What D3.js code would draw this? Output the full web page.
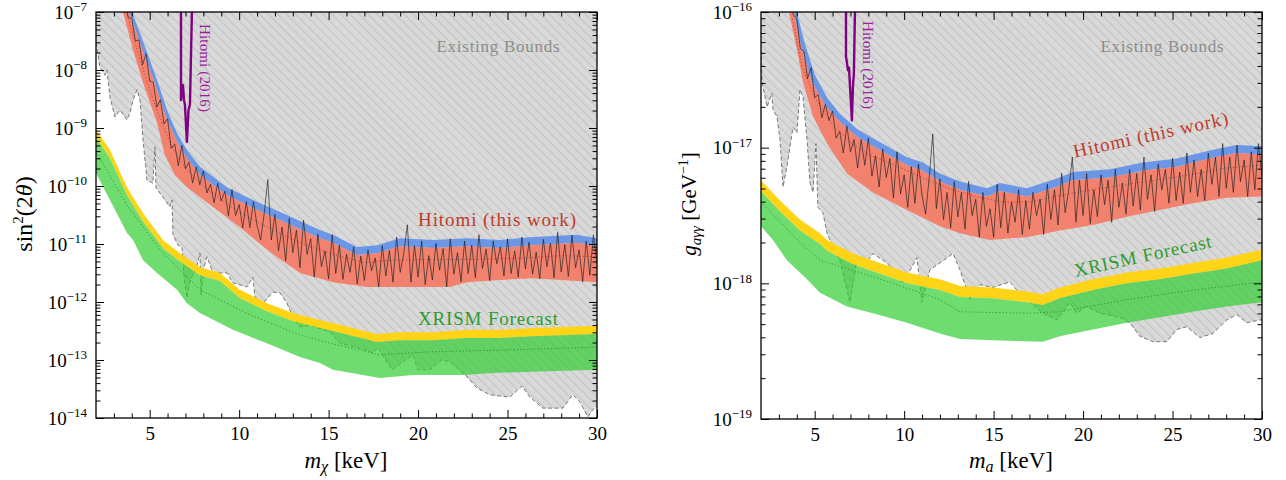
<!DOCTYPE html>
<html><head><meta charset="utf-8">
<script src="https://cdn.jsdelivr.net/npm/d3@7"></script>
<style>
body{margin:0;background:#fff;}
svg{display:block;}
svg text{font-family:"Liberation Serif","DejaVu Serif",serif;}
</style></head><body>
<svg id="chart" width="1286" height="480"></svg>
<script>
// ---------------- DATA (mass in keV, values given as log10) ----------------
const majorMassTicks = [5, 10, 15, 20, 25, 30];
const minorMassTicks = [3,4,6,7,8,9,11,12,13,14,16,17,18,19,21,22,23,24,26,27,28,29];
const leftDecades = [-14, -13, -12, -11, -10, -9, -8, -7];
const rightDecades = [-19, -18, -17, -16];

// Left panel: sin^2(2theta)
const existingL = [[2.00,-7.53],[2.22,-7.95],[2.50,-8.09],[2.61,-8.00],[2.78,-8.47],[3.06,-8.81],[3.34,-8.69],[3.73,-8.86],[3.90,-8.74],[4.07,-8.52],[4.29,-8.34],[4.46,-8.52],[4.63,-9.21],[4.85,-9.90],[5.18,-9.95],[5.30,-9.33],[5.35,-10.03],[5.74,-10.19],[6.13,-10.36],[6.25,-10.24],[6.30,-10.84],[6.58,-11.02],[6.80,-11.05],[6.92,-11.57],[7.08,-11.93],[7.25,-11.62],[7.59,-11.45],[7.81,-11.16],[7.87,-11.88],[8.03,-11.41],[8.20,-11.22],[8.54,-11.50],[9.32,-11.50],[9.65,-11.67],[10.44,-11.74],[10.77,-11.57],[10.88,-11.91],[11.33,-12.02],[11.89,-11.83],[12.28,-11.84],[12.67,-12.02],[13.01,-12.26],[13.40,-12.43],[13.96,-12.40],[15.07,-12.52],[15.63,-12.71],[17.14,-12.83],[17.47,-12.88],[17.75,-12.78],[18.54,-13.17],[19.71,-12.91],[19.99,-13.17],[20.66,-13.17],[21.33,-13.00],[21.78,-13.03],[22.73,-13.29],[23.28,-13.48],[24.01,-13.60],[25.13,-13.64],[25.80,-13.45],[26.25,-13.64],[26.97,-13.83],[28.09,-13.83],[28.65,-13.60],[29.04,-13.72],[29.49,-13.98],[29.88,-13.81],[30.00,-13.81]];
const blueTopL = [[3.80,-6.83],[4.01,-7.00],[4.46,-7.36],[5.41,-8.17],[5.97,-8.69],[6.53,-9.09],[7.08,-9.38],[7.81,-9.67],[9.32,-10.02],[10.77,-10.24],[12.45,-10.47],[14.51,-10.76],[15.24,-10.84],[16.58,-11.05],[17.70,-11.02],[18.98,-10.90],[20.83,-10.93],[22.73,-10.90],[24.57,-10.93],[26.41,-10.88],[28.87,-10.84],[30.00,-10.90]];
const redTopL = [[3.70,-6.85],[3.84,-7.00],[4.30,-7.40],[5.30,-8.25],[5.90,-8.80],[6.50,-9.22],[7.08,-9.52],[7.81,-9.81],[9.32,-10.16],[10.77,-10.38],[12.45,-10.61],[14.51,-10.90],[15.24,-10.98],[16.58,-11.19],[17.70,-11.16],[18.98,-11.04],[20.83,-11.07],[22.73,-11.04],[24.57,-11.07],[26.41,-11.02],[28.87,-10.98],[30.00,-11.04]];
const redBottomL = [[3.40,-6.85],[3.51,-7.00],[4.07,-7.66],[4.63,-8.22],[5.41,-8.91],[5.85,-9.47],[6.41,-9.81],[7.08,-10.02],[8.54,-10.36],[10.04,-10.71],[11.72,-11.14],[13.40,-11.50],[15.24,-11.66],[17.14,-11.74],[18.98,-11.74],[21.78,-11.74],[22.73,-11.66],[24.57,-11.62],[26.41,-11.59],[30.00,-11.66]];
const expectedL = [[3.70,-7.00],[4.20,-7.55],[5.00,-8.35],[5.60,-8.85],[6.20,-9.30],[7.00,-9.70],[8.00,-10.00],[9.50,-10.35],[11.00,-10.62],[12.50,-10.85],[14.00,-11.05],[15.50,-11.20],[17.00,-11.32],[18.50,-11.28],[20.00,-11.27],[22.00,-11.27],[24.00,-11.26],[26.00,-11.24],[28.00,-11.20],[30.00,-11.22]];
const yellowTopL = [[2.00,-9.03],[2.78,-9.38],[3.73,-10.02],[4.63,-10.47],[5.74,-10.93],[6.69,-11.16],[7.81,-11.40],[8.93,-11.50],[10.04,-11.79],[11.55,-12.02],[13.01,-12.19],[14.51,-12.31],[15.24,-12.36],[17.70,-12.55],[18.98,-12.52],[20.83,-12.52],[22.73,-12.48],[24.57,-12.48],[26.41,-12.45],[30.00,-12.41]];
const yellowBottomL = [[2.00,-9.17],[2.78,-9.52],[3.73,-10.16],[4.63,-10.61],[5.74,-11.07],[6.69,-11.30],[7.81,-11.54],[8.93,-11.64],[10.04,-11.93],[11.55,-12.16],[13.01,-12.33],[14.51,-12.45],[15.24,-12.50],[17.70,-12.69],[18.98,-12.66],[20.83,-12.66],[22.73,-12.62],[24.57,-12.62],[26.41,-12.59],[30.00,-12.55]];
const greenBottomL = [[2.00,-9.78],[2.78,-10.24],[3.73,-10.81],[4.07,-10.93],[4.63,-11.28],[5.41,-11.50],[6.53,-11.79],[7.08,-12.02],[7.81,-12.19],[9.65,-12.48],[11.55,-12.71],[13.40,-12.95],[14.51,-13.05],[15.24,-13.17],[17.87,-13.31],[19.71,-13.26],[22.50,-13.26],[24.40,-13.22],[30.00,-13.17]];
const xrismMedianL = [[2.00,-9.41],[3.73,-10.33],[5.58,-11.10],[7.81,-11.79],[10.60,-12.22],[13.40,-12.57],[15.07,-12.71],[17.87,-12.91],[20.66,-12.86],[24.40,-12.83],[30.00,-12.78]];
const hitomi2016L = [[6.75,-6.5],[6.75,-8.52],[6.86,-8.26],[6.92,-8.52],[6.97,-8.60],[7.08,-9.24],[7.17,-8.69],[7.25,-8.60],[7.36,-7.00],[7.38,-6.5]];

// Right panel: g_{a gamma gamma}
const existingR = [[2.00,-16.28],[2.06,-16.52],[2.34,-16.70],[2.61,-16.60],[2.67,-16.72],[2.89,-16.77],[3.06,-16.94],[3.23,-17.29],[3.45,-17.14],[3.62,-16.99],[3.79,-16.85],[4.01,-16.89],[4.18,-16.57],[4.35,-16.63],[4.57,-16.94],[4.74,-17.26],[4.91,-17.33],[5.07,-16.97],[5.18,-17.44],[5.46,-17.48],[5.69,-17.63],[5.85,-17.68],[6.41,-17.83],[6.97,-18.14],[7.36,-17.83],[7.70,-17.88],[8.26,-17.78],[9.04,-17.85],[9.93,-18.00],[10.72,-17.81],[10.99,-18.14],[11.44,-17.90],[12.00,-17.85],[12.73,-17.78],[13.12,-17.90],[13.68,-18.12],[14.23,-18.01],[14.96,-18.03],[15.91,-17.99],[16.30,-18.05],[16.86,-18.12],[17.75,-18.22],[18.54,-18.27],[19.26,-18.14],[19.65,-18.22],[20.21,-18.17],[20.94,-18.22],[22.06,-18.25],[22.61,-18.29],[23.17,-18.39],[23.90,-18.43],[24.68,-18.43],[25.24,-18.34],[25.80,-18.32],[26.53,-18.40],[27.25,-18.37],[28.03,-18.27],[28.59,-18.23],[29.15,-18.29],[29.88,-18.27],[30.00,-18.27]];
const blueTopR = [[3.70,-15.85],[4.00,-16.00],[4.40,-16.21],[5.00,-16.46],[5.69,-16.63],[6.41,-16.75],[7.36,-16.86],[8.26,-16.93],[9.21,-17.00],[10.16,-17.07],[11.05,-17.11],[12.00,-17.19],[13.12,-17.25],[14.63,-17.30],[15.35,-17.26],[16.86,-17.30],[18.70,-17.22],[19.43,-17.18],[21.50,-17.16],[23.34,-17.11],[25.24,-17.08],[27.08,-17.02],[28.59,-16.98],[30.00,-16.99]];
const redTopR = [[3.60,-15.85],[3.84,-16.00],[4.25,-16.26],[4.85,-16.52],[5.60,-16.69],[6.41,-16.81],[7.36,-16.92],[8.26,-16.99],[9.21,-17.06],[10.16,-17.13],[11.05,-17.17],[12.00,-17.25],[13.12,-17.31],[14.63,-17.36],[15.35,-17.32],[16.86,-17.36],[18.70,-17.28],[19.43,-17.24],[21.50,-17.22],[23.34,-17.17],[25.24,-17.14],[27.08,-17.08],[28.59,-17.04],[30.00,-17.05]];
const redBottomR = [[3.40,-15.91],[3.56,-16.00],[4.01,-16.28],[4.35,-16.52],[4.91,-16.77],[5.69,-16.97],[6.80,-17.19],[8.26,-17.33],[10.16,-17.46],[12.00,-17.58],[13.12,-17.63],[14.79,-17.68],[16.86,-17.66],[18.70,-17.61],[20.55,-17.57],[22.45,-17.51],[24.29,-17.46],[26.13,-17.41],[28.03,-17.37],[30.00,-17.36]];
const expectedR = [[3.75,-16.05],[4.30,-16.40],[5.00,-16.63],[6.00,-16.83],[7.00,-16.96],[8.00,-17.05],[9.50,-17.13],[11.00,-17.22],[12.50,-17.30],[14.00,-17.36],[15.50,-17.40],[17.00,-17.40],[18.50,-17.36],[20.00,-17.32],[22.00,-17.28],[24.00,-17.24],[26.00,-17.20],[28.00,-17.15],[30.00,-17.13]];
const yellowTopR = [[2.00,-17.24],[3.06,-17.39],[4.18,-17.53],[5.30,-17.63],[5.69,-17.68],[7.14,-17.78],[8.65,-17.85],[10.16,-17.92],[12.00,-17.97],[13.12,-18.02],[14.96,-18.03],[16.86,-18.06],[17.75,-18.08],[18.70,-18.03],[20.55,-17.97],[22.45,-17.92],[24.29,-17.89],[26.13,-17.85],[28.03,-17.81],[30.00,-17.75]];
const yellowBottomR = [[2.00,-17.32],[3.06,-17.47],[4.18,-17.61],[5.30,-17.71],[5.69,-17.76],[7.14,-17.86],[8.65,-17.93],[10.16,-18.00],[12.00,-18.05],[13.12,-18.10],[14.96,-18.11],[16.86,-18.14],[17.75,-18.16],[18.70,-18.11],[20.55,-18.05],[22.45,-18.00],[24.29,-17.97],[26.13,-17.93],[28.03,-17.89],[30.00,-17.83]];
const greenBottomR = [[2.00,-17.58],[2.67,-17.68],[3.45,-17.83],[4.57,-17.97],[5.30,-18.07],[6.80,-18.17],[8.26,-18.22],[10.16,-18.29],[12.00,-18.37],[13.12,-18.41],[14.96,-18.42],[17.75,-18.43],[18.70,-18.39],[20.55,-18.34],[22.45,-18.29],[24.29,-18.25],[26.13,-18.21],[28.03,-18.17],[30.00,-18.14]];
const xrismMedianR = [[2.00,-17.40],[4.18,-17.70],[5.30,-17.83],[8.26,-17.95],[12.00,-18.12],[13.12,-18.21],[16.86,-18.22],[18.70,-18.21],[22.45,-18.12],[26.13,-18.05],[30.00,-17.99]];
const hitomi2016R = [[6.75,-15.8],[6.75,-16.33],[6.80,-16.37],[6.86,-16.43],[6.92,-16.41],[6.97,-16.54],[7.08,-16.80],[7.14,-16.54],[7.19,-16.46],[7.25,-16.00],[7.26,-15.8]];

// Observed Hitomi limit (black line), same mass grid for both panels
const obsMass = [3.6,3.8,4.0,4.2,4.4,4.6,4.8,5.0,5.2,5.4,5.6,5.8,6.0,6.2,6.4,6.6,6.8,7.0,7.2,7.4,7.6,7.8,8.0,8.2,8.4,8.6,8.8,9.0,9.2,9.4,9.6,9.8,10.0,10.2,10.4,10.6,10.8,11.0,11.2,11.4,11.6,11.8,12.0,12.2,12.4,12.6,12.8,13.0,13.2,13.4,13.6,13.8,14.0,14.2,14.4,14.6,14.8,15.0,15.2,15.4,15.6,15.8,16.0,16.2,16.4,16.6,16.8,17.0,17.2,17.4,17.6,17.8,18.0,18.2,18.4,18.6,18.8,19.0,19.2,19.4,19.6,19.8,20.0,20.2,20.4,20.6,20.8,21.0,21.2,21.4,21.6,21.8,22.0,22.2,22.4,22.6,22.8,23.0,23.2,23.4,23.6,23.8,24.0,24.2,24.4,24.6,24.8,25.0,25.2,25.4,25.6,25.8,26.0,26.2,26.4,26.6,26.8,27.0,27.2,27.4,27.6,27.8,28.0,28.2,28.4,28.6,28.8,29.0,29.2,29.4,29.6,29.8,30.0];
const obsLeft = [-6.80,-7.09,-7.11,-7.50,-7.48,-7.91,-7.72,-8.19,-8.21,-8.64,-8.51,-8.93,-8.84,-9.35,-9.28,-9.65,-9.30,-9.70,-9.59,-9.95,-9.67,-9.98,-9.74,-10.12,-9.97,-10.29,-9.95,-10.26,-10.09,-10.51,-10.06,-10.51,-10.32,-10.72,-10.27,-10.72,-10.27,-10.68,-10.93,-10.48,-9.89,-10.93,-10.49,-11.12,-10.71,-11.29,-10.56,-11.15,-10.76,-11.41,-10.59,-11.18,-10.91,-11.57,-10.83,-11.39,-11.12,-11.60,-10.84,-11.51,-11.02,-11.61,-11.18,-11.49,-11.05,-11.69,-11.21,-11.63,-11.10,-11.46,-11.24,-11.74,-11.03,-11.55,-11.11,-11.66,-10.88,-11.49,-11.16,-10.67,-11.66,-11.03,-11.57,-10.95,-11.70,-11.20,-11.62,-10.99,-11.45,-11.08,-11.74,-10.91,-11.52,-11.15,-11.65,-10.95,-11.51,-11.02,-11.58,-10.84,-11.42,-11.09,-11.63,-10.95,-11.34,-11.05,-11.55,-10.91,-11.51,-11.12,-11.57,-10.88,-11.43,-10.97,-11.52,-11.14,-11.60,-10.92,-11.39,-10.99,-11.58,-10.80,-11.48,-11.01,-11.56,-10.85,-11.41,-11.10,-11.65,-10.95,-11.54,-10.84,-11.35];
const obsRight = [-15.86,-16.02,-16.05,-16.27,-16.29,-16.49,-16.41,-16.63,-16.61,-16.78,-16.68,-16.80,-16.73,-16.93,-16.88,-17.04,-16.84,-17.03,-16.94,-17.15,-16.94,-17.13,-16.93,-17.21,-17.06,-17.29,-17.01,-17.22,-17.08,-17.37,-17.03,-17.34,-17.20,-17.44,-17.14,-17.41,-17.12,-17.35,-17.49,-17.22,-16.90,-17.45,-17.23,-17.53,-17.33,-17.59,-17.25,-17.51,-17.33,-17.60,-17.25,-17.50,-17.38,-17.66,-17.33,-17.58,-17.45,-17.66,-17.27,-17.59,-17.33,-17.63,-17.40,-17.55,-17.31,-17.64,-17.39,-17.60,-17.33,-17.50,-17.38,-17.64,-17.27,-17.53,-17.31,-17.57,-17.19,-17.48,-17.31,-17.07,-17.55,-17.24,-17.50,-17.19,-17.56,-17.31,-17.51,-17.20,-17.42,-17.24,-17.55,-17.16,-17.44,-17.26,-17.49,-17.16,-17.43,-17.19,-17.46,-17.07,-17.38,-17.20,-17.47,-17.12,-17.31,-17.16,-17.41,-17.08,-17.39,-17.18,-17.41,-17.04,-17.33,-17.09,-17.36,-17.16,-17.39,-17.04,-17.27,-17.07,-17.36,-16.97,-17.30,-17.07,-17.33,-16.98,-17.25,-17.09,-17.36,-17.03,-17.31,-16.97,-17.21];

// ---------------- DRAWING ----------------
const svg = d3.select("#chart");
const defs = svg.append("defs");
const hatch = defs.append("pattern").attr("id","hatch").attr("patternUnits","userSpaceOnUse")
  .attr("width",6.4).attr("height",6.4).attr("patternTransform","rotate(-45)");
hatch.append("rect").attr("width",6.4).attr("height",6.4).attr("fill","#d9d9d9");
hatch.append("line").attr("x1",0.6).attr("y1",0).attr("x2",0.6).attr("y2",6.4)
  .attr("stroke","#c3c3c3").attr("stroke-width",1.1);

const COLORS = {
  red: "#f2826e", blue: "#6b97e6", yellow: "#ffd416", green: "rgba(50,205,50,0.70)",
  purple: "#800080", hitomiText: "#c0392b", xrismText: "#2e9b2e", boundsText: "#8c8c8c"
};

function drawPanel(cfg) {
  const g = svg.append("g");
  const x = d3.scaleLinear().domain([2, 30]).range([cfg.x0, cfg.x1]);
  const y = d3.scaleLog().domain([Math.pow(10, cfg.ymin), Math.pow(10, cfg.ymax)]).range([cfg.y1, cfg.y0]);
  const P = d => [x(d[0]), y(Math.pow(10, d[1]))];
  const line = d3.line();
  const poly = (a, b) => line(a.map(P).concat(b.slice().reverse().map(P))) + "Z";

  defs.append("clipPath").attr("id", cfg.id + "clip").append("rect")
    .attr("x", cfg.x0).attr("y", cfg.y0).attr("width", cfg.x1 - cfg.x0).attr("height", cfg.y1 - cfg.y0);
  const p = g.append("g").attr("clip-path", `url(#${cfg.id}clip)`);

  // Existing bounds (filled up to the top)
  const topLog = cfg.ymax + 1;
  const boundArea = [[2, topLog]].concat(cfg.existing).concat([[30, topLog]]);
  p.append("path").attr("d", line(boundArea.map(P)) + "Z").attr("fill", "url(#hatch)");
  p.append("path").attr("d", line(cfg.existing.map(P))).attr("fill", "none")
    .attr("stroke", "#5a5a5a").attr("stroke-width", 0.8).attr("stroke-dasharray", "4,2.5");

  // Hitomi (this work) bands
  p.append("path").attr("d", poly(cfg.blueTop, cfg.redTop)).attr("fill", COLORS.blue);
  p.append("path").attr("d", poly(cfg.redTop, cfg.redBottom)).attr("fill", COLORS.red);
  p.append("path").attr("d", line(cfg.expected.map(P))).attr("fill", "none")
    .attr("stroke", "#a8392c").attr("stroke-width", 0.8).attr("stroke-dasharray", "1.2,2.2");
  const obs = cfg.obsMass.map((m, i) => [m, cfg.obs[i]]);
  p.append("path").attr("d", line(obs.map(P))).attr("fill", "none")
    .attr("stroke", "#1a1a1a").attr("stroke-width", 0.75).attr("stroke-opacity", 0.85)
    .attr("stroke-linejoin", "round");

  // XRISM forecast
  p.append("path").attr("d", poly(cfg.yellowTop, cfg.yellowBottom)).attr("fill", COLORS.yellow);
  p.append("path").attr("d", poly(cfg.yellowBottom, cfg.greenBottom)).attr("fill", COLORS.green);
  p.append("path").attr("d", line(cfg.xrismMedian.map(P))).attr("fill", "none")
    .attr("stroke", "#2b7f2b").attr("stroke-width", 0.8).attr("stroke-dasharray", "1.2,2.2");

  // Hitomi 2016
  p.append("path").attr("d", line(cfg.hitomi2016.map(P))).attr("fill", "none")
    .attr("stroke", COLORS.purple).attr("stroke-width", 2.4).attr("stroke-linejoin", "round");

  // Labels inside plot
  const t = cfg.texts;
  g.append("text").attr("x", t.bounds[0]).attr("y", t.bounds[1]).attr("text-anchor", "middle")
    .attr("font-size", 17).attr("fill", COLORS.boundsText).attr("textLength", 123).text("Existing Bounds");
  g.append("text").attr("transform", `translate(${t.hitomi[0]},${t.hitomi[1]}) rotate(${t.hitomi[2]})`)
    .attr("text-anchor", "middle").attr("font-size", 19).attr("fill", COLORS.hitomiText)
    .attr("textLength", 158).text("Hitomi (this work)");
  g.append("text").attr("transform", `translate(${t.xrism[0]},${t.xrism[1]}) rotate(${t.xrism[2]})`)
    .attr("text-anchor", "middle").attr("font-size", 19).attr("fill", COLORS.xrismText)
    .attr("textLength", 140).text("XRISM Forecast");
  g.append("text").attr("transform", `translate(${t.h2016[0]},${t.h2016[1]}) rotate(90)`)
    .attr("text-anchor", "middle").attr("font-size", 15).attr("fill", "#9a1f9a")
    .attr("textLength", 88).text("Hitomi (2016)");

  // Axes
  const minorY = [];
  for (let d = cfg.ymin; d < cfg.ymax; d++) for (let j = 2; j <= 9; j++) minorY.push(j * Math.pow(10, d));
  const majorY = cfg.decades.map(d => Math.pow(10, d));
  const ax = g.append("g");
  const mk = (axis, tx, ty) => {
    const a = ax.append("g").attr("transform", `translate(${tx},${ty})`).call(axis);
    a.attr("font-family", null);
    a.select(".domain").remove();
    a.selectAll(".tick line").attr("stroke", "#000").attr("stroke-width", 1);
    return a;
  };
  const xb = mk(d3.axisBottom(x).tickValues(majorMassTicks).tickSizeInner(-8).tickSizeOuter(0).tickPadding(9), 0, cfg.y1);
  xb.selectAll("text").attr("font-size", 19).attr("fill", "#000");
  mk(d3.axisBottom(x).tickValues(minorMassTicks).tickSize(-4.5).tickFormat(""), 0, cfg.y1);
  mk(d3.axisTop(x).tickValues(majorMassTicks).tickSize(-8).tickFormat(""), 0, cfg.y0);
  mk(d3.axisTop(x).tickValues(minorMassTicks).tickSize(-4.5).tickFormat(""), 0, cfg.y0);
  const yl = mk(d3.axisLeft(y).tickValues(majorY).tickSizeInner(-8).tickSizeOuter(0).tickPadding(9), cfg.x0, 0);
  yl.selectAll(".tick text").each(function(d) {
    const s = d3.select(this);
    const e = Math.round(Math.log10(d));
    s.text(null).attr("font-size", 19).attr("fill", "#000");
    s.append("tspan").text("10");
    s.append("tspan").attr("font-size", 13).attr("dy", "-0.55em").text("\u2212" + Math.abs(e));
  });
  mk(d3.axisLeft(y).tickValues(minorY).tickSize(-4.5).tickFormat(""), cfg.x0, 0);
  mk(d3.axisRight(y).tickValues(majorY).tickSize(-8).tickFormat(""), cfg.x1, 0);
  mk(d3.axisRight(y).tickValues(minorY).tickSize(-4.5).tickFormat(""), cfg.x1, 0);

  g.append("rect").attr("x", cfg.x0).attr("y", cfg.y0).attr("width", cfg.x1 - cfg.x0)
    .attr("height", cfg.y1 - cfg.y0).attr("fill", "none").attr("stroke", "#000").attr("stroke-width", 1.3);

  return g;
}

const left = drawPanel({
  id: "L", x0: 96, x1: 597, y0: 12, y1: 418, ymin: -14, ymax: -7, decades: leftDecades,
  existing: existingL, blueTop: blueTopL, redTop: redTopL, redBottom: redBottomL, expected: expectedL,
  obsMass: obsMass, obs: obsLeft, yellowTop: yellowTopL, yellowBottom: yellowBottomL,
  greenBottom: greenBottomL, xrismMedian: xrismMedianL, hitomi2016: hitomi2016L,
  texts: { bounds: [498, 52], hitomi: [497, 226, 0], xrism: [488, 325, 0], h2016: [200, 68] }
});
const right = drawPanel({
  id: "R", x0: 761, x1: 1262, y0: 12, y1: 419, ymin: -19, ymax: -16, decades: rightDecades,
  existing: existingR, blueTop: blueTopR, redTop: redTopR, redBottom: redBottomR, expected: expectedR,
  obsMass: obsMass, obs: obsRight, yellowTop: yellowTopR, yellowBottom: yellowBottomR,
  greenBottom: greenBottomR, xrismMedian: xrismMedianR, hitomi2016: hitomi2016R,
  texts: { bounds: [1162, 52], hitomi: [1152, 141, -12.3], xrism: [1144, 262, -12.3], h2016: [863, 65] }
});

// Axis titles
const lx = svg.append("text").attr("x", 346).attr("y", 468).attr("text-anchor", "middle").attr("font-size", 23);
lx.append("tspan").attr("font-style", "italic").text("m");
lx.append("tspan").attr("font-style", "italic").attr("font-size", 16).attr("dy", 4).text("\u03c7");
lx.append("tspan").attr("dy", -4).text("\u00a0[keV]");

const rx = svg.append("text").attr("x", 1011).attr("y", 468).attr("text-anchor", "middle").attr("font-size", 23);
rx.append("tspan").attr("font-style", "italic").text("m");
rx.append("tspan").attr("font-style", "italic").attr("font-size", 16).attr("dy", 4).text("a");
rx.append("tspan").attr("dy", -4).text("\u00a0[keV]");

const ly = svg.append("text").attr("transform", "translate(32,214) rotate(-90)").attr("text-anchor", "middle").attr("font-size", 24);
ly.append("tspan").text("sin");
ly.append("tspan").attr("font-size", 15).attr("dy", -9).text("2");
ly.append("tspan").attr("dy", 9).text("(2");
ly.append("tspan").attr("font-style", "italic").text("\u03b8");
ly.append("tspan").text(")");

const ry = svg.append("text").attr("transform", "translate(696,204) rotate(-90)").attr("text-anchor", "middle").attr("font-size", 21);
ry.append("tspan").attr("font-style", "italic").text("g");
ry.append("tspan").attr("font-style", "italic").attr("font-size", 15).attr("dy", 5).text("a\u03b3\u03b3");
ry.append("tspan").attr("dy", -5).text("\u00a0[GeV");
ry.append("tspan").attr("font-size", 14).attr("dy", -8).text("\u22121");
ry.append("tspan").attr("dy", 8).text("]");
</script>
</body></html>
